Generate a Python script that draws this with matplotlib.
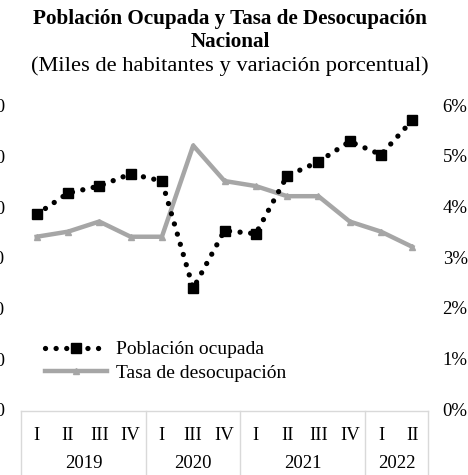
import matplotlib.pyplot as plt
from matplotlib.lines import Line2D

plt.rcParams["font.family"] = ["Liberation Serif", "DejaVu Serif"]

quarters = ["I", "II", "III", "IV", "I", "III", "IV", "I", "II", "III", "IV", "I", "II"]
years = ["2019", "2020", "2021", "2022"]
year_sizes = [4, 3, 4, 2]

ocupada = [7920, 8130, 8200, 8320, 8250, 7190, 7760, 7730, 8300, 8440, 8640, 8510, 8850]
tasa = [3.4, 3.5, 3.7, 3.4, 3.4, 5.2, 4.5, 4.4, 4.2, 4.2, 3.7, 3.5, 3.2]

left_ticks = [6000, 6500, 7000, 7500, 8000, 8500, 9000]
right_ticks = [0, 1, 2, 3, 4, 5, 6]

W, H = 468, 475
fig = plt.figure(figsize=(W / 100, H / 100), dpi=100)

x0, x1, ybot, ytop = 21, 428, 409, 105
ax = fig.add_axes([x0 / W, 1 - ybot / H, (x1 - x0) / W, (ybot - ytop) / H])
ax2 = ax.twinx()

n = len(quarters)
xs = list(range(n))
ax.set_xlim(-0.5, n - 0.5)

gray = "#a6a6a6"
ax2.plot(xs, tasa, color=gray, lw=3.2, marker="^", ms=5, clip_on=False, zorder=2)
ax.plot(xs, ocupada, color="black", lw=3.8, linestyle=(0, (0.01, 2.0)),
        dash_capstyle="round", marker="s", ms=6.5, clip_on=False, zorder=3)
ax.set_zorder(ax2.get_zorder() + 1)
ax.patch.set_visible(False)

ax.set_ylim(6000, 9000)
ax.set_yticks(left_ticks)
ax.set_yticklabels([f"{v:,}" for v in left_ticks])
ax.tick_params(axis="y", length=0, pad=11.5, labelsize=13.5)
ax2.set_ylim(0, 6)
ax2.set_yticks(right_ticks)
ax2.set_yticklabels([f"{v}%" for v in right_ticks])
ax2.tick_params(axis="y", length=0, pad=10.5, labelsize=13.5)

ax.set_xticks([])
for a in (ax, ax2):
    for s in a.spines.values():
        s.set_visible(False)

# category table below the plot
lc = "#d9d9d9"
fig.add_artist(Line2D([x0 / W, x1 / W], [1 - 411 / H] * 2, color=lc, lw=1))
step = (x1 - x0) / n
bounds = [0]
for s in year_sizes:
    bounds.append(bounds[-1] + s)
for b in bounds:
    xb = (x0 + b * step) / W
    fig.add_artist(Line2D([xb, xb], [0, 1 - 411 / H], color=lc, lw=1))
for i, q in enumerate(quarters):
    fig.text((x0 + (i + 0.5) * step) / W, 1 - 436 / H, q, ha="center", va="center", fontsize=13.5)
for k, yr in enumerate(years):
    xm = (x0 + (bounds[k] + bounds[k + 1]) / 2 * step) / W
    fig.text(xm, 1 - 464 / H, yr, ha="center", va="center", fontsize=13.5)

tx = 230 / W
fig.text(tx, 1 - 19 / H, "Población Ocupada y Tasa de Desocupación", ha="center",
         va="center", fontsize=15.2, fontweight="bold")
fig.text(tx, 1 - 42 / H, "Nacional", ha="center", va="center", fontsize=15.2, fontweight="bold")
fig.text(tx, 1 - 66 / H, "(Miles de habitantes y variación porcentual)", ha="center",
         va="center", fontsize=16.2)

h1 = Line2D([], [], color="black", lw=3.8, linestyle=(0, (0.01, 2.0)),
            dash_capstyle="round", marker="s", ms=6.5)
h2 = Line2D([], [], color=gray, lw=3.2, marker="^", ms=5)
fig.legend([h1, h2], ["Población ocupada", "Tasa de desocupación"],
           loc="upper left", bbox_to_anchor=(37 / W, 1 - 333 / H), frameon=False,
           fontsize=14, handlelength=3.2, handletextpad=0.45, labelspacing=0.32,
           borderaxespad=0)

fig.savefig("out.png", dpi=100)
